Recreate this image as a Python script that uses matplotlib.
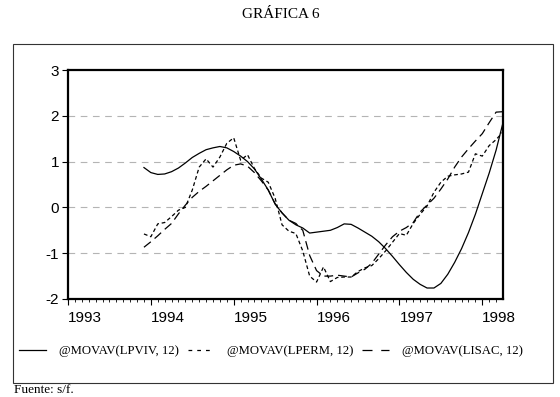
import matplotlib
matplotlib.use("Agg")
import matplotlib.pyplot as plt
from matplotlib.patches import Rectangle
from matplotlib.lines import Line2D
import numpy as np

plt.rcParams["axes.unicode_minus"] = False

# monthly observations, Dec 1993 .. Apr 1998
start_year = 1993
start_month = 11          # 0-based month index of first observation
n_obs = 53

lpviv = [0.87,
         0.76, 0.72, 0.73, 0.78, 0.86, 0.97, 1.09, 1.18, 1.26, 1.30, 1.33, 1.30,
         1.22, 1.12, 1.00, 0.84, 0.62, 0.38, 0.07, -0.12, -0.28, -0.38, -0.45, -0.56,
         -0.54, -0.52, -0.50, -0.44, -0.36, -0.37, -0.45, -0.54, -0.63, -0.75, -0.90, -1.07,
         -1.25, -1.42, -1.57, -1.68, -1.76, -1.76, -1.66, -1.46, -1.20, -0.90, -0.55, -0.15,
         0.30, 0.75, 1.25, 1.85]

lperm = [-0.58,
         -0.64, -0.36, -0.33, -0.20, -0.06, 0.00, 0.38, 0.88, 1.06, 0.88, 1.10, 1.40,
         1.52, 1.03, 1.15, 0.85, 0.64, 0.55, 0.20, -0.38, -0.52, -0.57, -0.95, -1.50,
         -1.63, -1.30, -1.62, -1.53, -1.52, -1.52, -1.40, -1.32, -1.27, -1.12, -0.95, -0.76,
         -0.57, -0.61, -0.35, -0.15, 0.03, 0.33, 0.55, 0.68, 0.71, 0.73, 0.77, 1.17,
         1.12, 1.35, 1.48, 1.65]

lisac = [-0.87,
         -0.75, -0.62, -0.48, -0.35, -0.14, 0.05, 0.22, 0.35, 0.46, 0.58, 0.70, 0.82,
         0.92, 0.95, 0.90, 0.76, 0.58, 0.38, 0.08, -0.12, -0.28, -0.35, -0.50, -1.05,
         -1.38, -1.50, -1.50, -1.48, -1.50, -1.52, -1.43, -1.35, -1.22, -1.02, -0.82, -0.64,
         -0.52, -0.44, -0.33, -0.10, 0.05, 0.20, 0.40, 0.62, 0.88, 1.10, 1.28, 1.45,
         1.61, 1.85, 2.08, 2.09]

labels = ["@MOVAV(LPVIV, 12)", "@MOVAV(LPERM, 12)", "@MOVAV(LISAC, 12)"]
years = [1993, 1994, 1995, 1996, 1997, 1998]

t = start_year + (start_month + np.arange(n_obs)) / 12.0

serif = "Liberation Serif"
sans = "Liberation Sans"
short_dash = (0, (3, 2.2))
long_dash = (0, (7, 4))

fig = plt.figure(figsize=(5.6, 3.97), dpi=100)
ax = fig.add_axes([68 / 560, 1 - 299 / 397, 435 / 560, 229 / 397])

for y in [-1, 0, 1, 2]:
    ax.axhline(y, color="#b4b4b4", lw=0.8, ls=(0, (6, 5)), zorder=1)

ax.plot(t, lpviv, color="black", lw=0.9, ls="-", zorder=3)
ax.plot(t, lperm, color="black", lw=0.9, ls=short_dash, zorder=3)
ax.plot(t, lisac, color="black", lw=0.9, ls=long_dash, zorder=3)

ax.set_xlim(1993.0, 1998.25)
ax.set_ylim(-2, 3)
ax.set_yticks([-2, -1, 0, 1, 2, 3])
ax.set_xticks(years)
ax.set_xticks(np.arange(1993, 1998.25, 1 / 12), minor=True)
ax.set_xticklabels([str(y) for y in years])
for lab in ax.get_xticklabels():
    lab.set_horizontalalignment("left")

ax.tick_params(axis="x", which="major", direction="out", length=4.5, width=0.8, pad=4,
               labelsize=11)
ax.tick_params(axis="x", which="minor", direction="out", length=2.2, width=0.6)
ax.tick_params(axis="y", direction="out", length=4.5, width=0.8, pad=2, labelsize=11)
for lab in ax.get_xticklabels() + ax.get_yticklabels():
    lab.set_fontfamily(sans)

for s in ax.spines.values():
    s.set_linewidth(1.6)

fig.text(281 / 560, 1 - 15 / 397, "GRÁFICA 6", ha="center", va="center",
         fontsize=11, family=serif)

fig.patches.append(Rectangle((12.5 / 560, 1 - 383 / 397), 540 / 560, 339 / 397,
                             transform=fig.transFigure, fill=False,
                             edgecolor="#333333", lw=0.8))

handles = [Line2D([], [], color="black", lw=0.9, ls="-"),
           Line2D([], [], color="black", lw=0.9, ls=(0, (3, 4))),
           Line2D([], [], color="black", lw=0.9, ls=(0, (8, 7)))]
fig.legend(handles, labels, ncol=3, loc="center left", frameon=False,
           bbox_to_anchor=(14 / 560, 1 - 351 / 397),
           prop={"family": serif, "size": 9.2},
           handlelength=2.1, handletextpad=1.0, columnspacing=0.7, borderaxespad=0)

fig.text(14 / 560, 1 - 390 / 397, "Fuente: s/f.", ha="left", va="center",
         fontsize=9.5, family=serif)

fig.savefig("out.png", dpi=100)
